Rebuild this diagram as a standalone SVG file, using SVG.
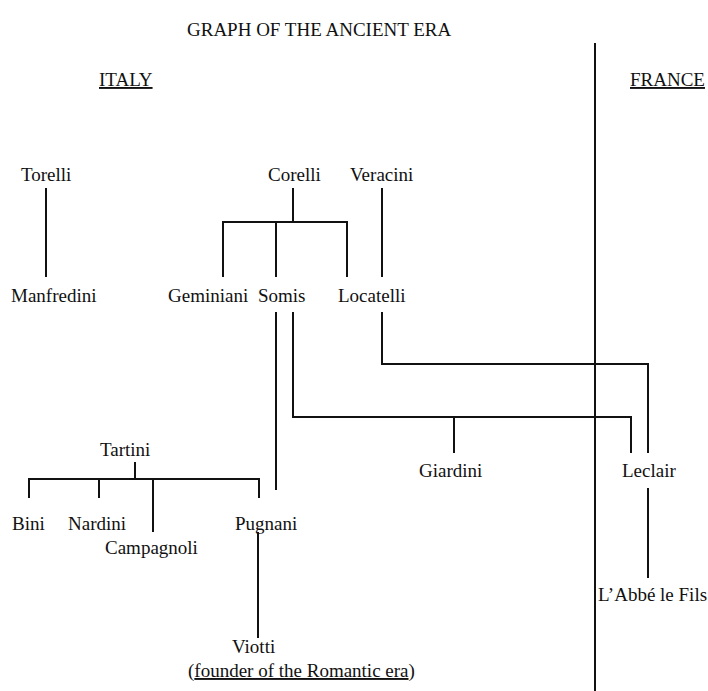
<svg xmlns="http://www.w3.org/2000/svg" width="708" height="691" viewBox="0 0 708 691">
<style>
text{font-family:"Liberation Serif","Times New Roman",serif;font-size:19px;fill:#111}
.u{text-decoration:underline}
.c{fill:none;stroke:#111;stroke-width:2}
</style>
<rect width="708" height="691" fill="#fff"/>
<g id="title"><text x="187" y="36">GRAPH OF THE ANCIENT ERA</text></g>
<g id="italy"><text x="99" y="86" class="u">ITALY</text></g>
<g id="france"><text x="630" y="86" class="u">FRANCE</text></g>
<g id="torelli"><text x="21" y="181">Torelli</text></g>
<g id="manfredini"><text x="11" y="302">Manfredini</text></g>
<g id="corelli"><text x="268" y="181">Corelli</text></g>
<g id="veracini"><text x="350" y="181">Veracini</text></g>
<g id="geminiani"><text x="168" y="302">Geminiani</text></g>
<g id="somis"><text x="258" y="302">Somis</text></g>
<g id="locatelli"><text x="338" y="302">Locatelli</text></g>
<g id="tartini"><text x="100" y="456">Tartini</text></g>
<g id="giardini"><text x="419" y="477">Giardini</text></g>
<g id="leclair"><text x="622" y="477">Leclair</text></g>
<g id="bini"><text x="12" y="530">Bini</text></g>
<g id="nardini"><text x="68" y="530">Nardini</text></g>
<g id="campagnoli"><text x="105" y="554">Campagnoli</text></g>
<g id="pugnani"><text x="235" y="530">Pugnani</text></g>
<g id="abbe"><text x="598" y="601">L’Abbé le Fils</text></g>
<g id="viotti"><text x="232" y="653">Viotti</text><text x="188" y="677">(<tspan class="u">founder of the Romantic era</tspan>)</text></g>
<g id="connectors" class="c">
<path d="M595 43V691"/>
<path d="M46 188V277"/>
<path d="M293 188V222M223 277V222H347V277M276 222V277"/>
<path d="M382 188V277"/>
<path d="M276 312V490"/>
<path d="M293 312V417H631V453M454 417V453"/>
<path d="M382 312V364H648V453"/>
<path d="M648 488V578"/>
<path d="M135 462V479M29 498V479H259V498M99 479V498M153 479V532"/>
<path d="M258 532V638"/>
</g>
</svg>
